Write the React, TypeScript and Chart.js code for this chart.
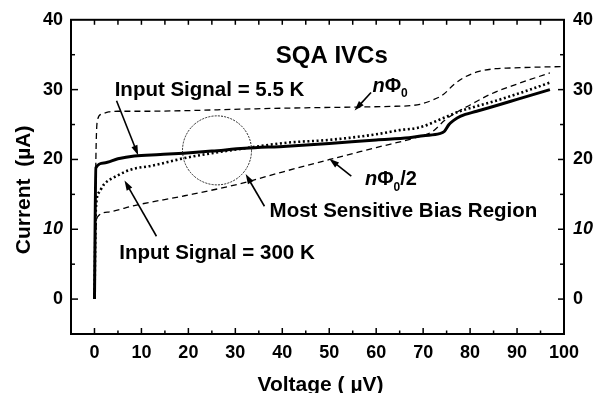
import React, { useEffect, useRef } from "react";
import { Chart, registerables } from "chart.js";

Chart.register(...registerables);

// ---- data ----
const xTicks = [0, 10, 20, 30, 40, 50, 60, 70, 80, 90, 100];
const yTicks = [0, 10, 20, 30, 40];

const solidX = [0, 0.3, 2, 5, 8.5, 14, 19, 25, 32, 41, 50, 60, 67, 70, 73.5, 74.5, 75.5, 76.5, 78, 81.4, 86, 90, 97];
const solidY = [0, 18.8, 19.5, 20.1, 20.5, 20.7, 20.9, 21.2, 21.6, 21.9, 22.3, 22.8, 23.1, 23.4, 23.7, 24.0, 25.0, 25.6, 26.2, 26.9, 27.8, 28.6, 30.0];

const dotX = [0, 0.3, 1, 2, 4.9, 8, 12.2, 19.2, 25, 31, 41, 50, 60, 65, 69.3, 74.2, 77.8, 85, 91, 97];
const dotY = [0, 13, 15.3, 16.4, 17.7, 18.6, 19.1, 20.2, 20.9, 21.5, 22.4, 22.8, 23.6, 24.2, 24.6, 25.9, 26.9, 28.3, 29.6, 31.0];

const fluxX = [0, 0.3, 0.6, 1.5, 3, 5, 10, 20, 31, 45, 56, 63, 67.2, 69.3, 72, 74.3, 76.5, 78.6, 81.9, 85.4, 88.7, 93, 100];
const fluxY = [0, 20, 25.5, 26.5, 26.8, 26.9, 26.9, 27.0, 27.2, 27.4, 27.5, 27.6, 27.7, 27.9, 28.5, 29.3, 30.7, 31.7, 32.6, 33.0, 33.1, 33.2, 33.3];

const halfX = [0, 0.3, 0.7, 3.2, 8.5, 19.2, 30.9, 40, 50.1, 60, 69.3, 72, 74.6, 77, 80, 84.2, 90, 97];
const halfY = [0, 10, 11.8, 12.5, 13.4, 14.8, 16.5, 18.2, 20.0, 21.7, 23.3, 24.0, 25.6, 26.7, 27.8, 29.3, 30.8, 32.4];

const toPts = (xs: number[], ys: number[]) => xs.map((x, i) => ({ x, y: ys[i] }));

const FONT = "'Liberation Sans', Arial, Helvetica, sans-serif";

const annotPlugin = {
  id: "annot",
  afterDatasetsDraw(chart: any) {
    const { ctx, chartArea: a, scales } = chart;
    const xs = scales.x;
    const ys = scales.y;
    const px = (v: number) => xs.getPixelForValue(v);
    const py = (v: number) => ys.getPixelForValue(v);
    ctx.save();
    ctx.strokeStyle = "#000";
    ctx.fillStyle = "#000";
    ctx.setLineDash([]);

    // frame
    ctx.lineWidth = 2;
    ctx.strokeRect(a.left, a.top, a.right - a.left, a.bottom - a.top);

    // inward ticks
    ctx.lineWidth = 1.5;
    const line = (x1: number, y1: number, x2: number, y2: number) => {
      ctx.beginPath();
      ctx.moveTo(x1, y1);
      ctx.lineTo(x2, y2);
      ctx.stroke();
    };
    xTicks.forEach((v) => {
      const X = px(v);
      line(X, a.bottom, X, a.bottom - 6);
      line(X, a.top, X, a.top + 5);
      if (v + 5 < 100) {
        const M = px(v + 5);
        line(M, a.bottom, M, a.bottom - 3.5);
        line(M, a.top, M, a.top + 5);
      }
    });
    yTicks.forEach((v) => {
      const Y = py(v);
      if (v < 40) {
        line(a.left, Y, a.left + 7, Y);
        line(a.right, Y, a.right - 6, Y);
        const M = py(v + 5);
        line(a.left, M, a.left + 4, M);
        line(a.right, M, a.right - 4, M);
      }
    });

    // circle: most sensitive region
    const cx = px(26.1);
    const cy = py(21.3);
    const r = px(26.1 + 7.35) - cx;
    ctx.lineWidth = 1;
    ctx.strokeStyle = "#222";
    ctx.setLineDash([2, 1.2]);
    ctx.beginPath();
    ctx.arc(cx, cy, r, 0, Math.PI * 2);
    ctx.stroke();
    ctx.setLineDash([]);
    ctx.strokeStyle = "#000";

    // arrows
    const arrow = (x1: number, y1: number, x2: number, y2: number) => {
      const X1 = px(x1), Y1 = py(y1), X2 = px(x2), Y2 = py(y2);
      const ang = Math.atan2(Y2 - Y1, X2 - X1);
      const hl = 10, hw = 3.2;
      ctx.lineWidth = 1.6;
      line(X1, Y1, X2 - Math.cos(ang) * hl * 0.8, Y2 - Math.sin(ang) * hl * 0.8);
      ctx.beginPath();
      ctx.moveTo(X2, Y2);
      ctx.lineTo(X2 - Math.cos(ang) * hl - Math.sin(ang) * hw, Y2 - Math.sin(ang) * hl + Math.cos(ang) * hw);
      ctx.lineTo(X2 - Math.cos(ang) * hl + Math.sin(ang) * hw, Y2 - Math.sin(ang) * hl - Math.cos(ang) * hw);
      ctx.closePath();
      ctx.fill();
    };
    arrow(4.7, 28.4, 9.3, 20.6);
    arrow(58.9, 29.6, 55.4, 27.0);
    arrow(54.7, 17.6, 50.0, 20.1);
    arrow(36.2, 13.3, 32.2, 17.9);
    arrow(13.2, 9.0, 6.4, 17.0);

    // texts
    ctx.textBaseline = "middle";
    ctx.textAlign = "left";
    ctx.font = `bold 24px ${FONT}`;
    ctx.fillText("SQA IVCs", px(38.6), py(34.8));
    ctx.font = `bold 20.5px ${FONT}`;
    ctx.fillText("Input Signal = 5.5 K", px(4.3), py(29.9));
    ctx.fillText("Input Signal = 300 K", px(5.3), py(6.6));
    ctx.fillText("Most Sensitive Bias Region", px(37.3), py(12.5));

    const flux = (x: number, y: number, suffix: string) => {
      let X = px(x);
      const Y = py(y);
      ctx.font = `italic bold 20px ${FONT}`;
      ctx.fillText("n", X, Y);
      X += ctx.measureText("n").width;
      ctx.font = `bold 20px ${FONT}`;
      ctx.fillText("\u03A6", X, Y);
      X += ctx.measureText("\u03A6").width;
      ctx.font = `bold 12px ${FONT}`;
      ctx.fillText("0", X, Y + 8);
      X += ctx.measureText("0").width;
      if (suffix) {
        ctx.font = `bold 20px ${FONT}`;
        ctx.fillText(suffix, X, Y);
      }
    };
    flux(59.2, 30.5, "");
    flux(57.6, 17.1, "/2");

    // axis titles
    ctx.font = `bold 21px ${FONT}`;
    ctx.textAlign = "center";
    ctx.textBaseline = "alphabetic";
    ctx.fillText("Voltage ( \u00B5V)", (a.left + a.right) / 2 + 3, a.bottom + 57);
    ctx.save();
    ctx.translate(a.left - 41, (a.top + a.bottom) / 2 + 13);
    ctx.rotate(-Math.PI / 2);
    ctx.fillText("Current  (\u00B5A)", 0, 0);
    ctx.restore();

    ctx.restore();
  },
};

const tickFontY = (c: any) => ({
  family: FONT,
  size: 18,
  weight: "bold",
  style: c.tick && c.tick.value === 10 ? "italic" : "normal",
});

export default function App() {
  const ref = useRef<HTMLCanvasElement>(null);
  useEffect(() => {
    document.body.style.margin = "0";
    const canvas = ref.current!;
    const setTicks = (vals: number[]) => (s: any) => {
      s.ticks = vals.map((v) => ({ value: v }));
    };
    const chart = new Chart(canvas, {
      type: "line",
      data: {
        datasets: [
          {
            label: "nPhi0",
            data: toPts(fluxX, fluxY),
            borderColor: "#000",
            borderWidth: 1.3,
            borderDash: [6, 4],
            pointRadius: 0,
            cubicInterpolationMode: "monotone",
            fill: false,
          },
          {
            label: "nPhi0/2",
            data: toPts(halfX, halfY),
            borderColor: "#000",
            borderWidth: 1.3,
            borderDash: [6, 4],
            pointRadius: 0,
            cubicInterpolationMode: "monotone",
            fill: false,
          },
          {
            label: "300 K",
            data: toPts(dotX, dotY),
            borderColor: "#000",
            borderWidth: 2.6,
            borderDash: [2, 2.6],
            pointRadius: 0,
            cubicInterpolationMode: "monotone",
            fill: false,
          },
          {
            label: "5.5 K",
            data: toPts(solidX, solidY),
            borderColor: "#000",
            borderWidth: 3,
            pointRadius: 0,
            cubicInterpolationMode: "monotone",
            fill: false,
          },
        ],
      },
      options: {
        animation: false,
        responsive: false,
        devicePixelRatio: 1,
        layout: { padding: 0 },
        plugins: { legend: { display: false }, tooltip: { enabled: false } },
        scales: {
          x: {
            type: "linear",
            position: "bottom",
            min: -5,
            max: 100,
            afterBuildTicks: setTicks(xTicks),
            afterFit: (s: any) => { s.height = 59; },
            grid: { display: false, drawTicks: false },
            border: { display: false },
            ticks: { color: "#000", padding: 8, maxRotation: 0, autoSkip: false, font: { family: FONT, size: 18, weight: "bold" } },
          },
          x2: {
            type: "linear",
            position: "top",
            min: -5,
            max: 100,
            afterFit: (s: any) => { s.height = 14; },
            grid: { display: false, drawTicks: false },
            border: { display: false },
            ticks: { display: false },
          },
          y: {
            type: "linear",
            position: "left",
            min: -5,
            max: 40,
            afterBuildTicks: setTicks(yTicks),
            afterFit: (s: any) => { s.width = 71; },
            grid: { display: false, drawTicks: false },
            border: { display: false },
            ticks: { color: "#000", padding: 8, autoSkip: false, font: tickFontY as any },
          },
          y2: {
            type: "linear",
            position: "right",
            min: -5,
            max: 40,
            afterBuildTicks: setTicks(yTicks),
            afterFit: (s: any) => { s.width = 30; },
            grid: { display: false, drawTicks: false },
            border: { display: false },
            ticks: { color: "#000", padding: 9, autoSkip: false, font: tickFontY as any },
          },
        },
      } as any,
      plugins: [annotPlugin],
    });
    return () => chart.destroy();
  }, []);
  return (
    <div style={{ width: 594, height: 393, background: "#fff" }}>
      <canvas ref={ref} width={594} height={393} style={{ display: "block" }} />
    </div>
  );
}
